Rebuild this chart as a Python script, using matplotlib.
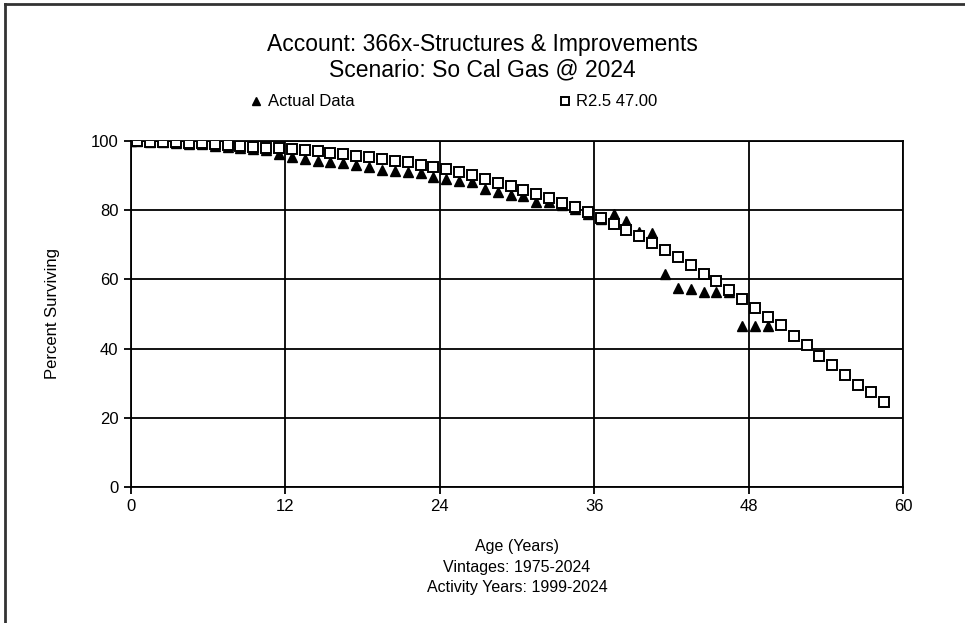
import matplotlib.pyplot as plt
from matplotlib.lines import Line2D

plt.rcParams['font.family'] = ['Liberation Sans', 'DejaVu Sans']

# ages are plotted at the interval midpoints, with a leading point at age 0
ages_curve = [0] + [i + 0.5 for i in range(59)]
ages_actual = [0] + [i + 0.5 for i in range(50)]

# R2.5 curve, 47 year life
r25_curve = [100.0, 99.9, 99.8, 99.7, 99.6, 99.5, 99.4, 99.1, 98.9, 98.6,
             98.3, 98.1, 97.9, 97.6, 97.3, 97.0, 96.6, 96.2, 95.8, 95.3,
             94.8, 94.3, 93.8, 93.2, 92.5, 91.8, 91.0, 90.2, 89.1, 88.0,
             87.0, 85.8, 84.8, 83.4, 82.2, 80.8, 79.4, 77.8, 76.0, 74.3,
             72.5, 70.4, 68.6, 66.4, 64.3, 61.6, 59.6, 56.8, 54.2, 51.6,
             49.2, 46.8, 43.6, 41.0, 37.9, 35.3, 32.4, 29.5, 27.4, 24.7]

# observed survivors
actual_data = [100.0, 99.9, 99.8, 99.6, 99.4, 99.2, 99.0, 98.6, 98.3, 98.0,
               97.7, 97.4, 96.1, 95.5, 94.8, 94.2, 94.0, 93.5, 93.1, 92.5,
               91.7, 91.4, 91.1, 90.8, 89.5, 88.9, 88.5, 88.2, 86.2, 85.4,
               84.4, 84.0, 82.5, 82.3, 81.4, 80.2, 78.9, 77.4, 79.0, 76.8,
               73.8, 73.3, 61.6, 57.4, 57.1, 56.5, 56.5, 56.3, 46.5, 46.5,
               46.5]

x_ticks = [0, 12, 24, 36, 48, 60]
y_ticks = [0, 20, 40, 60, 80, 100]

fig = plt.figure(figsize=(9.65, 6.23), dpi=100)
ax = fig.add_axes([0.1358, 0.2183, 0.8, 0.5554])

ax.plot(ages_actual, actual_data, linestyle='none', marker='^', markersize=7,
        color='black', label='Actual Data', zorder=3)
ax.plot(ages_curve, r25_curve, linestyle='none', marker='s', markersize=7,
        markerfacecolor='white', markeredgecolor='black', markeredgewidth=1.4,
        label='R2.5 47.00', zorder=4)

ax.set_xlim(0, 60)
ax.set_ylim(0, 100)
ax.set_xticks(x_ticks)
ax.set_yticks(y_ticks)
ax.grid(True, color='black', linewidth=1.3)
ax.set_axisbelow(True)
for side in ax.spines.values():
    side.set_linewidth(1.3)
ax.tick_params(length=5, width=1.3, labelsize=12, pad=4)

ax.set_ylabel('Percent Surviving', fontsize=12, labelpad=22)
ax.set_xlabel('Age (Years)\nVintages: 1975-2024\nActivity Years: 1999-2024',
              fontsize=11.5, labelpad=18, linespacing=1.45)

fig.text(0.5, 0.929, 'Account: 366x-Structures & Improvements', ha='center',
         va='center', fontsize=16.5)
fig.text(0.5, 0.887, 'Scenario: So Cal Gas @ 2024', ha='center',
         va='center', fontsize=16.5)

ax.legend(loc='center', bbox_to_anchor=(0.418, 1.113), ncol=2, frameon=False,
          fontsize=12, handletextpad=0.3, columnspacing=12.2, markerscale=0.75,
          handlelength=0.8)

# frame along the top and left edges of the figure
fig.add_artist(Line2D([0.005, 0.005], [0, 0.994], color='#333333', linewidth=2))
fig.add_artist(Line2D([0.005, 1], [0.994, 0.994], color='#333333', linewidth=2))

fig.savefig('out.png', dpi=100)
